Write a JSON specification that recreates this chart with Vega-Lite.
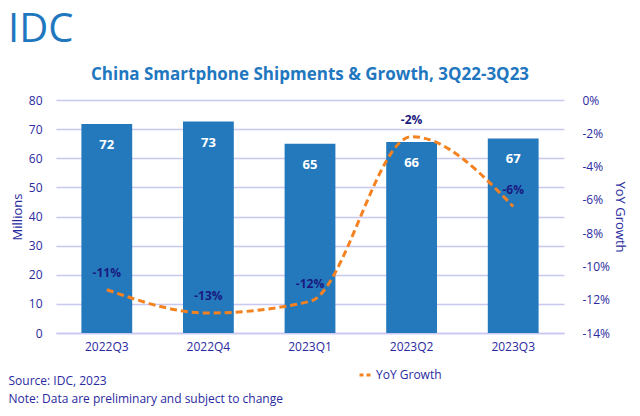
{
  "$schema": "https://vega.github.io/schema/vega-lite/v6.json",
  "background": "white",
  "padding": {"left": 8, "top": 10, "right": 5, "bottom": 5},
  "config": {"font": "Open Sans", "view": {"stroke": null}},
  "title": {"text": "IDC", "anchor": "start", "frame": "bounds", "fontSize": 40, "fontWeight": "normal", "color": "#1f77c0", "font": "Open Sans", "offset": 16},
  "vconcat": [
    {
      "width": 508,
      "height": 233,
      "title": {"text": "China Smartphone Shipments & Growth, 3Q22-3Q23", "fontSize": 17, "fontWeight": "bold", "color": "#1f77c0", "anchor": "middle", "offset": 10},
      "data": {"values": [
        {"quarter": "2022Q3", "shipments": 71.8, "yoy": -0.114, "yoyLabel": "-11%"},
        {"quarter": "2022Q4", "shipments": 72.6, "yoy": -0.128, "yoyLabel": "-13%"},
        {"quarter": "2023Q1", "shipments": 65.0, "yoy": -0.121, "yoyLabel": "-12%"},
        {"quarter": "2023Q2", "shipments": 65.6, "yoy": -0.022, "yoyLabel": "-2%"},
        {"quarter": "2023Q3", "shipments": 66.8, "yoy": -0.064, "yoyLabel": "-6%"}
      ]},
      "encoding": {
        "x": {"field": "quarter", "type": "nominal", "sort": null,
          "scale": {"paddingInner": 0.5, "paddingOuter": 0.25},
          "axis": {"labelAngle": 0, "labelColor": "#2a2aa0", "labelFontSize": 12, "labelPadding": 8, "ticks": false,
            "domainColor": "#c8c8f0", "domainWidth": 1.5,
            "title": ["Source: IDC, 2023", "Note: Data are preliminary and subject to change"],
            "titleAnchor": "start", "titleAlign": "left", "titleBaseline": "top", "titleX": -48, "titleY": 42,
            "titleFontSize": 12, "titleFontWeight": "normal", "titleColor": "#2a2aa0", "titleLineHeight": 18}}
      },
      "layer": [
        {
          "encoding": {
            "y": {"field": "shipments", "type": "quantitative", "scale": {"domain": [0, 80]},
              "axis": {"title": "Millions", "values": [0,10,20,30,40,50,60,70,80], "labelColor": "#2a2aa0", "labelFontSize": 12, "ticks": false, "domain": false,
                "gridColor": "#c8c8f0", "gridWidth": 1.5, "labelPadding": 14, "titleColor": "#2a2aa0", "titleFontSize": 13, "titleFontWeight": "normal", "titlePadding": 4}}
          },
          "layer": [
            {"mark": {"type": "bar", "color": "#2479bd"}},
            {
              "mark": {"type": "text", "color": "white", "fontWeight": "bold", "fontSize": 13, "baseline": "top", "dy": 15},
              "encoding": {"text": {"field": "shipments", "type": "quantitative", "format": ".0f"}}
            }
          ]
        },
        {
          "encoding": {
            "y": {"field": "yoy", "type": "quantitative", "scale": {"domain": [-0.14, 0]},
              "axis": {"orient": "right", "title": "YoY Growth", "values": [0,-0.02,-0.04,-0.06,-0.08,-0.1,-0.12,-0.14],
                "labelExpr": "replace(format(datum.value, '.0%'), '\u2212', '-')",
                "grid": false, "ticks": false, "domain": false,
                "labelColor": "#2a2aa0", "labelFontSize": 12, "labelPadding": 18, "titleColor": "#2a2aa0", "titleFontSize": 13, "titleFontWeight": "normal", "titlePadding": 3}}
          },
          "layer": [
            {
              "mark": {"type": "line", "color": "#f58220", "strokeDash": [7, 4], "strokeWidth": 3, "interpolate": "monotone"},
              "encoding": {
                "color": {"datum": "YoY Growth", "type": "nominal", "scale": {"range": ["#f58220"]},
                  "legend": {"title": null, "orient": "none", "legendX": 302, "legendY": 268, "symbolType": "stroke", "symbolStrokeWidth": 3, "symbolDash": [4, 3], "symbolSize": 120, "labelColor": "#2a2aa0", "labelFontSize": 12}}
              }
            },
            {
              "mark": {"type": "text", "color": "#1a1a80", "fontWeight": "bold", "fontSize": 12, "dy": -17},
              "encoding": {"text": {"field": "yoyLabel", "type": "nominal"}}
            }
          ]
        }
      ],
      "resolve": {"scale": {"y": "independent"}}
    }
  ]
}
